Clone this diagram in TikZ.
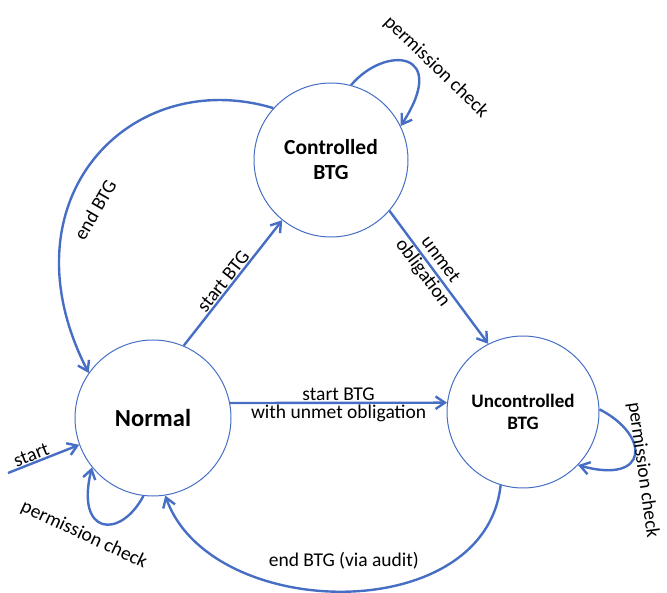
\documentclass[tikz,border=0pt]{standalone}
\usepackage{fontspec}
\setmainfont{Carlito}
\usepackage{tikz}
\usetikzlibrary{positioning, arrows.meta}
\definecolor{btgblue}{RGB}{70,110,196}
\tikzstyle{statebox} = [circle, draw=btgblue, line width=1pt,
inner sep=0pt, align=center]
\tikzstyle{edgelabel} = [font=\fontsize{19.5}{22}\selectfont,
inner sep=1pt]
\tikzstyle{transition} = [draw=btgblue, line width=2.4pt,
-{Straight Barb[length=3.3mm, width=4.4mm]}]

\begin{document}
\begin{tikzpicture}[x=1pt, y=-1pt]
	\useasboundingbox (0,0) rectangle (667,593);
	\coordinate (a) at (331, 160);
	\coordinate (b) at (153, 418);
	\coordinate (c) at (523, 412);
	\coordinate (init) at (8, 473);
	\node[statebox, minimum size=154pt, font=\bfseries\fontsize{21.5}{25}\selectfont](ctrl) at (a) {\rule{0pt}{8pt}Controlled\\BTG};
	\node[statebox, minimum size=156pt, font=\bfseries\fontsize{24.5}{29}\selectfont](normal) at (b) {Normal};
	\node[statebox, minimum size=152pt, font=\bfseries\fontsize{19}{22}\selectfont](unctrl) at (c) {Uncontrolled\\BTG};
	%% Entry into Normal
	\draw[transition] (init) -- (normal.200)
    node[pos=0.37, above, sloped, edgelabel] {start};
	\draw[transition] (normal.263) .. controls (120,540) and (75,535) .. (normal.219);
	\node[edgelabel, rotate=-25] (permNormal) at (84, 535) {permission check};
	%% Normal to the BTG states
	\draw[transition] (normal.67) -- (ctrl.231)
    node[pos=0.47, above, sloped, edgelabel] {start BTG};
	\draw[transition] (normal.11) -- (unctrl.173)
    node[midway, above, edgelabel] {start BTG}
    node[midway, below, edgelabel] {with unmet obligation};
	%% Controlled BTG
	\draw[transition] (ctrl.75) .. controls (385,45) and (450,50) .. (ctrl.26);
	\node[edgelabel, rotate=-44] (permCtrl) at (436, 67) {permission check};
	\draw[transition] (ctrl.319) -- (unctrl.117)
    node[pos=0.42, sloped, edgelabel, align=center] {unmet\\obligation};
	\draw[transition] (ctrl.138) .. controls (130,65) and (0,200) .. (normal.145);
	\node[edgelabel, rotate=60] (endCtrl) at (95, 210) {end BTG};
	%% Uncontrolled BTG
	\draw[transition] (unctrl.2) .. controls (650,435) and (650,485) .. (unctrl.316);
	\node[edgelabel, rotate=-82] (permUnctrl) at (643, 470) {permission check};
	\draw[transition] (unctrl.253) .. controls (485,628) and (210,622) .. (normal.279)
    node[midway, above=20pt, edgelabel] {end BTG (via audit)};
\end{tikzpicture}
\end{document}
